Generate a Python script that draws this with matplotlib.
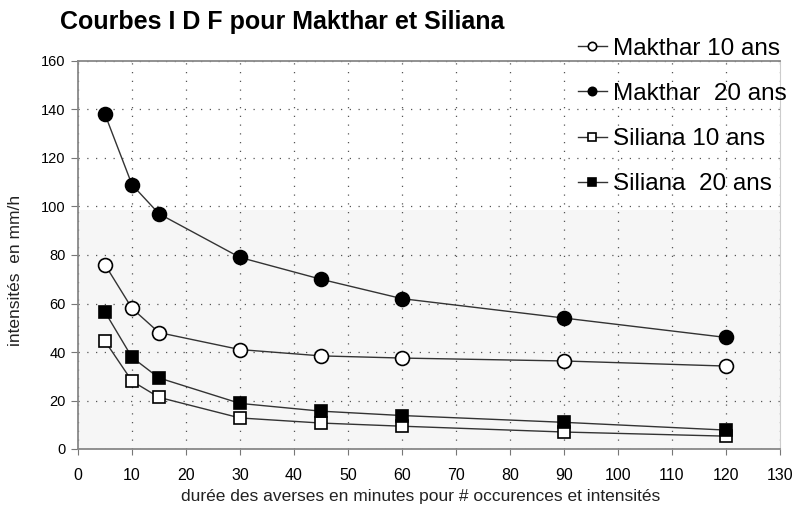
import matplotlib
matplotlib.use("Agg")
import matplotlib.pyplot as plt

durations = [5, 10, 15, 30, 45, 60, 90, 120]
makthar_10 = [76, 58, 48, 41, 38.4, 37.5, 36.3, 34.2]
makthar_20 = [138, 109, 97, 79, 70, 62, 54, 46]
siliana_10 = [44.5, 28, 21.3, 12.8, 10.7, 9.4, 7, 5.3]
siliana_20 = [56.5, 37.8, 29.3, 18.8, 15.6, 13.8, 11, 7.8]
labels = ["Makthar 10 ans", "Makthar  20 ans", "Siliana 10 ans", "Siliana  20 ans"]
xticks = list(range(0, 131, 10))
yticks = list(range(0, 161, 20))

plt.rcParams['font.family'] = ['Liberation Sans', 'DejaVu Sans']

fig = plt.figure(figsize=(7.94, 5.08), dpi=100)
ax = fig.add_axes([78/794, 1-449/508, (780-78)/794, (449-61)/508])

ax.axhspan(0, 98.5, color='#f6f6f6', zorder=0, lw=0)

lc = '#333333'
ax.plot(durations, makthar_10, '-o', color=lc, lw=1, mfc='white', mec='black', ms=10, mew=1.2, label=labels[0], zorder=3)
ax.plot(durations, makthar_20, '-o', color=lc, lw=1, mfc='black', mec='black', ms=10, mew=1.2, label=labels[1], zorder=3)
ax.plot(durations, siliana_10, '-s', color=lc, lw=1, mfc='white', mec='black', ms=9, mew=1.2, label=labels[2], zorder=3)
ax.plot(durations, siliana_20, '-s', color=lc, lw=1, mfc='black', mec='black', ms=9, mew=1.2, label=labels[3], zorder=3)

ax.set_xlim(0, 130)
ax.set_ylim(0, 160)
ax.set_xticks(xticks)
ax.set_yticks(yticks)
ax.tick_params(axis='x', labelsize=11.5, direction='out', length=4, color='#777777', pad=10)
ax.tick_params(axis='y', labelsize=10.5, direction='out', length=5, color='#777777', pad=4)
ax.grid(True, linestyle=(0, (1, 6)), color='#555555', lw=0.9)
ax.set_axisbelow(True)
for side in ['left', 'bottom', 'top']:
    ax.spines[side].set_color('#888888')
    ax.spines[side].set_linewidth(1.3)
ax.spines['right'].set_color('#cccccc')

ax.set_xlabel("durée des averses en minutes pour # occurences et intensités", fontsize=12.5, color='#222222', labelpad=4)
ax.xaxis.label.set_x((421 - 78) / 702)
ax.set_ylabel("intensités  en mm/h", fontsize=12.5, color='#222222')
ax.yaxis.set_label_coords(-0.079, (449 - 270) / 388)

fig.text(60/794, 1-22/508, "Courbes I D F pour Makthar et Siliana", fontsize=18, fontweight='bold', va='center', ha='left')

leg = fig.legend(loc='upper left', bbox_to_anchor=(556/794, 1-16/508), frameon=False,
                 fontsize=17.5, handlelength=1.2, handletextpad=0.25, labelspacing=0.95, markerscale=0.6)

fig.savefig("out.png", dpi=100)
